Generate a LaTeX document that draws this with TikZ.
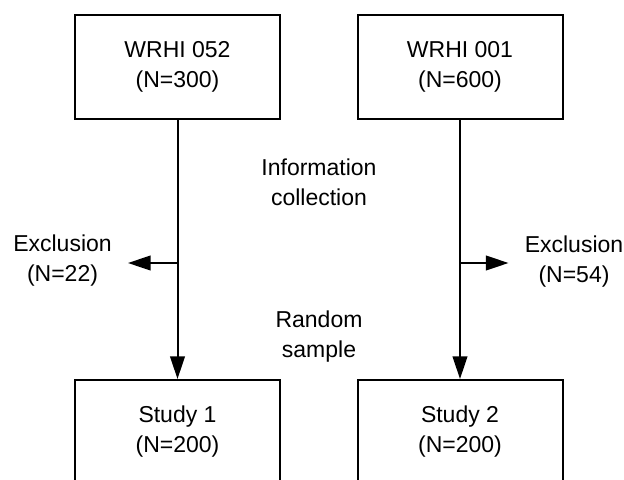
\documentclass[tikz,border=0pt]{standalone}
\usepackage{fontspec}
\setmainfont{Liberation Sans}
\usetikzlibrary{arrows.meta}

\newcommand{\flowfont}{\fontsize{17.25}{22.5}\selectfont}
\tikzset{
  flowbox/.style={draw, line width=1.5pt, minimum width=153.75pt, minimum height=78pt, align=center, inner sep=0pt, font=\flowfont},
  flowtext/.style={align=center, inner sep=0pt, font=\flowfont},
  flowarrow/.style={line width=1.5pt, -{Triangle[length=17pt,width=11pt]}},
}

\begin{document}
\begin{tikzpicture}[x=0.75pt,y=0.75pt,yscale=-1,xscale=1]
\useasboundingbox (0,0) rectangle (624,479);

% Boxes
\node [flowbox] (wrhiA) at (177.5,67) {WRHI 052\\(N=300)};
\node [flowbox] (wrhiB) at (460,67) {WRHI 001\\(N=600)};
\node [flowbox] (studyA) at (177.5,432) {Study 1\\(N=200)};
\node [flowbox] (studyB) at (460,432) {Study 2\\(N=200)};

% Text Node
\node [flowtext] (collect) at (319,182) {Information\\collection};
% Text Node
\node [flowtext] (sample) at (319,337) {Random\\sample};
% Text Node
\node [flowtext, inner xsep=12pt] (exclA) at (62.5,261) {Exclusion\\(N=22)};
% Text Node
\node [flowtext, inner xsep=12pt] (exclB) at (574,262) {Exclusion\\(N=54)};

\coordinate (splitA) at (177.5,263);
\coordinate (splitB) at (460,263);

% Arrows
\draw [flowarrow] (wrhiA) -- (studyA);
\draw [flowarrow] (wrhiB) -- (studyB);
\draw [flowarrow] (splitA) -- (exclA.east |- splitA);
\draw [flowarrow] (splitB) -- (exclB.west |- splitB);

\end{tikzpicture}
\end{document}
